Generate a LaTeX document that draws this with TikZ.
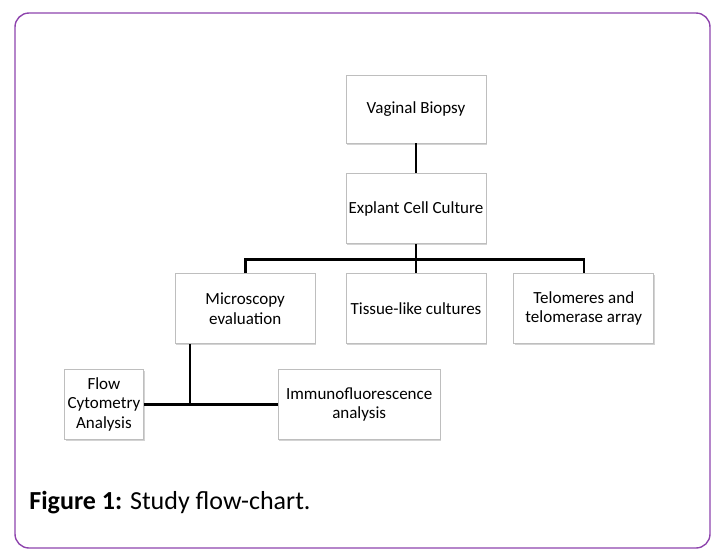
\documentclass[tikz,border=0pt]{standalone}
\usepackage{fontspec}
\setmainfont{Carlito}
\usepackage{xcolor}
\usetikzlibrary{positioning, calc, shadows}
\definecolor{frameviolet}{RGB}{142,68,173}
\definecolor{boxgray}{RGB}{190,190,190}

\begin{document}
\begin{tikzpicture}[thick,
    flowbox/.style={draw=boxgray, line width=0.8pt, fill=white, rectangle, align=center,
        minimum width=140pt, minimum height=70pt, inner sep=2pt,
        font=\fontsize{17}{19.5}\selectfont,
        drop shadow={shadow xshift=1.2pt, shadow yshift=-1.5pt, opacity=0.35, fill=gray}},
    link/.style={draw=black, line width=2.6pt}]
    % Frame
    \useasboundingbox (0,0) rectangle (716pt,-550pt);
    \draw[frameviolet, line width=1.4pt, rounded corners=14pt] (15pt,-13pt) rectangle (710pt,-548pt);

    % Boxes
    \node[flowbox, minimum height=68pt] (VB) at (416pt,-109pt) {Vaginal Biopsy};
    \node[flowbox, below=30pt of VB] (EC) {Explant Cell Culture};
    \node[flowbox, below=29pt of EC] (TC) {Tissue-like cultures};
    \node[flowbox, left=30pt of TC] (ME) {Microscopy\\evaluation};
    \node[flowbox, right=27pt of TC] (TT) {Telomeres and\\telomerase array};
    \node[flowbox, minimum width=162pt, below right=25pt and 103pt of ME.south west] (IA) {Immunofluorescence\\analysis};
    \node[flowbox, minimum width=79pt, left=134pt of IA] (FC) {Flow\\Cytometry\\Analysis};

    % Connectors
    \draw[link] (VB.south) -- (EC.north);
    \draw[link] (EC.south) -- ++(0,-15pt) coordinate (bus);
    \draw[link] (ME.north) |- (bus) -| (TT.north);
    \draw[link] (bus) -- (TC.north);
    \coordinate (MEfoot) at ($(ME.south west)+(15pt,0)$);
    \draw[link] (FC.east) -- (IA.west);
    \draw[link] (MEfoot) -- (MEfoot |- FC.east);

    % Caption
    \node[anchor=west, inner sep=0pt, font=\fontsize{26}{30}\selectfont] (cap) at (29pt,-503pt) {\textbf{Figure 1:} Study flow-chart.};
\end{tikzpicture}
\end{document}
